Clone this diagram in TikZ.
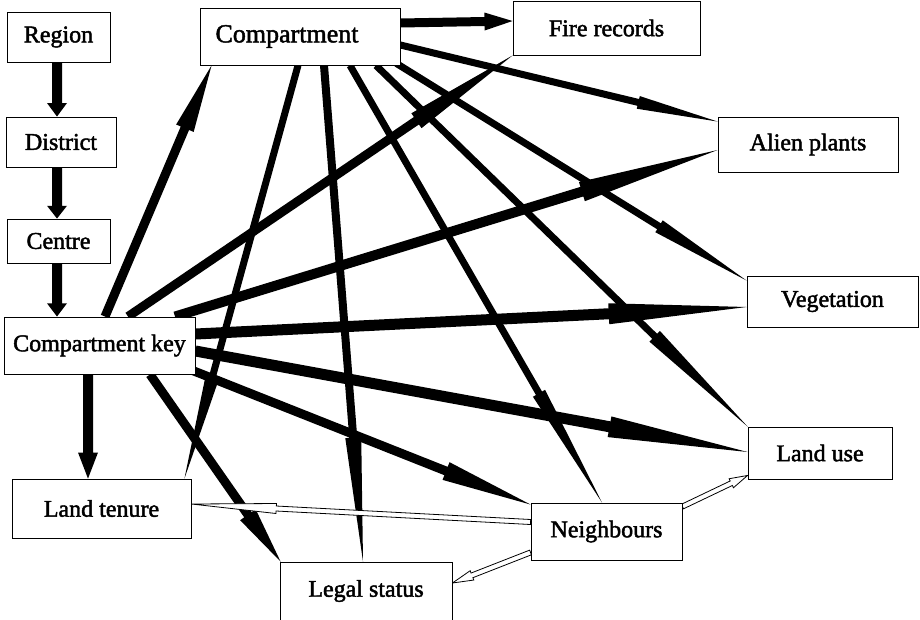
\documentclass[tikz,border=0pt]{standalone}
\usepackage{fontspec}
\setmainfont{Liberation Serif}
\newfontfamily\labfont{Liberation Serif}
\newcommand{\heavytext}[1]{\special{pdf:literal direct 2 Tr 0.45 w}#1\special{pdf:literal direct 0 Tr}}
\usetikzlibrary{calc,backgrounds}
\tikzset{
  box/.style={draw=black, line width=0.9pt, fill=white, inner sep=0pt,
    font=\labfont\fontsize{24}{28}\selectfont},
  solidspike/.style={fill=black},
  hollowspike/.style={fill=white, draw=black, line width=0.8pt, line join=miter},
}
% start, end, half shaft width, half barb width, style
\newcommand{\spike}[5]{%
  \coordinate (sS) at #1; \coordinate (sT) at #2;
  \coordinate (sB) at ($(sT)!0.25!(sS)$);
  \path[#5] ($(sS)!#3!90:(sT)$) -- ($(sB)!#3!90:(sT)$) -- ($(sB)!#4!90:(sT)$)
    -- (sT) -- ($(sB)!#4!-90:(sT)$) -- ($(sB)!#3!-90:(sT)$)
    -- ($(sS)!#3!-90:(sT)$) -- cycle;}
\begin{document}
\begin{tikzpicture}[x=1pt,y=-1pt]
\useasboundingbox (0,0) rectangle (920,619);
% nodes
\node[box, minimum width=103pt, minimum height=50pt] (rg) at (58.5,37) {\heavytext{Region}};
\node[box, minimum width=110pt, minimum height=50pt] (ds) at (61,142) {\heavytext{District}};
\node[box, minimum width=103pt, minimum height=44pt] (ce) at (58.5,241) {\heavytext{Centre}};
\node[box, minimum width=191pt, minimum height=57pt] (ck) at (99.5,345.5) {\heavytext{Compartment key}};
\node[box, minimum width=179pt, minimum height=59pt] (lt) at (101.5,508.5) {\heavytext{Land tenure}};
\node[box, minimum width=172pt, minimum height=58pt] (ls) at (366,591) {\heavytext{Legal status}};
\node[box, minimum width=151pt, minimum height=57pt] (nb) at (606.5,531.5) {\heavytext{Neighbours}};
\node[box, minimum width=144pt, minimum height=52pt] (lu) at (820,453) {\heavytext{Land use}};
\node[box, minimum width=171pt, minimum height=51pt] (vg) at (832.5,301.5) {\heavytext{Vegetation}};
\node[box, minimum width=180pt, minimum height=55pt] (ap) at (808,144.5) {\heavytext{Alien plants}};
\node[box, minimum width=187pt, minimum height=54pt] (fr) at (606.5,28) {\heavytext{Fire records}};
\node[box, minimum width=200pt, minimum height=57pt, font=\labfont\fontsize{26}{30}\selectfont] (cp) at (300,36.5) {\heavytext{Compartment}\hspace*{26pt}};
\begin{pgfonlayer}{background}
% hierarchy
\spike{([xshift=-1.5pt]rg.south)}{([xshift=-4pt]ds.north)}{5pt}{10pt}{solidspike}
\spike{([xshift=-4pt]ds.south)}{([xshift=-1.5pt]ce.north)}{5pt}{10pt}{solidspike}
\spike{([xshift=-1.5pt]ce.south)}{([xshift=-42.5pt]ck.north)}{5pt}{10pt}{solidspike}
\spike{([xshift=-11.5pt]ck.south)}{([xshift=-13.5pt]lt.north)}{5pt}{10pt}{solidspike}
% from compartment key
\spike{([xshift=5.5pt]ck.north)}{([xshift=12pt]cp.south west)}{4.5pt}{9.5pt}{solidspike}
\spike{([xshift=28.5pt]ck.north)}{(fr.south west)}{4.5pt}{9pt}{solidspike}
\spike{([xshift=75.5pt]ck.north)}{([yshift=-5.5pt]ap.west)}{5pt}{10pt}{solidspike}
\spike{([yshift=11.5pt]ck.east)}{([yshift=-5.5pt]vg.west)}{5.5pt}{10.5pt}{solidspike}
\spike{([yshift=-5.5pt]ck.east)}{([yshift=1pt]lu.west)}{5.5pt}{10.5pt}{solidspike}
\spike{([xshift=-3pt,yshift=4pt]ck.south east)}{([yshift=-2pt]nb.north west)}{4.5pt}{9.5pt}{solidspike}
\spike{([xshift=50.5pt]ck.south)}{([xshift=1pt]ls.north west)}{4.5pt}{9.5pt}{solidspike}
% from compartment
\spike{([yshift=13.5pt]cp.east)}{([yshift=7pt]fr.west)}{4.5pt}{9pt}{solidspike}
\spike{([yshift=-8.5pt]cp.east)}{([yshift=-5pt]ap.north west)}{3.5pt}{6.5pt}{solidspike}
\spike{([xshift=-4pt,yshift=2pt]cp.south east)}{([yshift=-5pt]vg.north west)}{3.5pt}{7pt}{solidspike}
\spike{([xshift=76pt]cp.south)}{(lu.north west)}{3.5pt}{7.5pt}{solidspike}
\spike{([xshift=50pt]cp.south)}{([xshift=-4.5pt]nb.north)}{3.5pt}{7pt}{solidspike}
\spike{([xshift=24pt]cp.south)}{([xshift=-3pt]ls.north)}{4pt}{8pt}{solidspike}
\spike{([xshift=-2pt]cp.south)}{([xshift=-7pt]lt.north east)}{3.5pt}{7pt}{solidspike}
% hollow connectors from neighbours
\spike{([yshift=9.5pt]nb.west)}{([yshift=4.5pt]lt.east)}{2.5pt}{5pt}{hollowspike}
\spike{([yshift=-4pt]nb.north east)}{([yshift=4pt]lu.south west)}{2.5pt}{5pt}{hollowspike}
\spike{([yshift=8pt]nb.south west)}{([yshift=8pt]ls.east)}{2.5pt}{5pt}{hollowspike}
\end{pgfonlayer}
\end{tikzpicture}
\end{document}
